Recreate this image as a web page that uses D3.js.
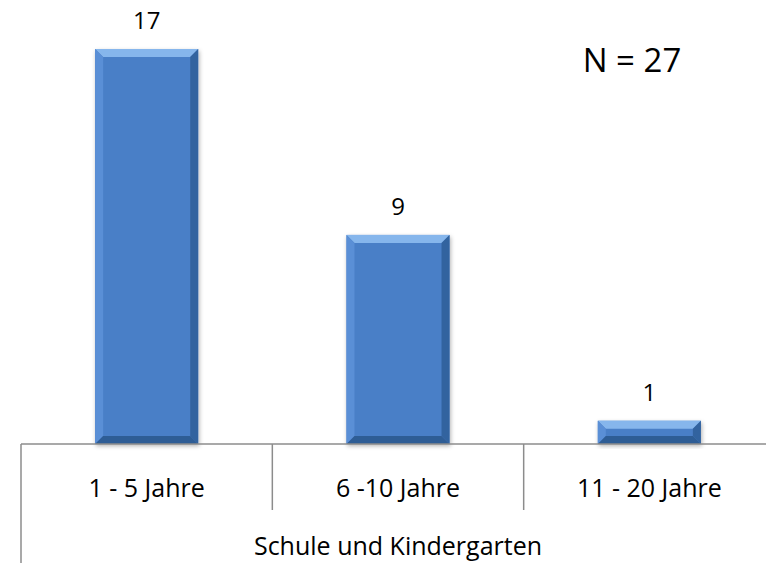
<!DOCTYPE html>
<html>
<head>
<meta charset="utf-8">
<script src="https://cdn.jsdelivr.net/npm/d3@7"></script>
<style>
  body { margin: 0; background: #fff; }
  text { font-family: "Open Sans", Lato, sans-serif; fill: #000; }
</style>
</head>
<body>
<svg id="chart" width="766" height="563"></svg>
<script>
const categories = ['1 - 5 Jahre', '6 -10 Jahre', '11 - 20 Jahre'];
const values = [17, 9, 1];
const groupLabel = 'Schule und Kindergarten';
const note = 'N = 27';

const svg = d3.select('#chart');
const W = 766, H = 563;
const left = 21, right = 775, base = 444;

const x = d3.scaleBand().domain(categories).range([left, right]).paddingInner(0).paddingOuter(0);
const y = d3.scaleLinear().domain([0, 17]).range([base, 49]);
const barW = x.bandwidth() * 0.41;

const defs = svg.append('defs');
const shadow = defs.append('filter').attr('id', 'sh').attr('x', '-20%').attr('y', '-20%').attr('width', '140%').attr('height', '140%');
shadow.append('feDropShadow').attr('dx', 1).attr('dy', 2).attr('stdDeviation', 2).attr('flood-color', '#000').attr('flood-opacity', 0.3);

const bevel = 8;
const bars = svg.append('g').selectAll('g').data(values).enter().append('g')
  .attr('filter', 'url(#sh)');

bars.each(function(d, i) {
  const g = d3.select(this);
  const x0 = x(categories[i]) + (x.bandwidth() - barW) / 2, x1 = x0 + barW;
  const y0 = y(d), y1 = base;
  const b = Math.min(bevel, (y1 - y0) / 2);
  g.append('rect').attr('x', x0).attr('y', y0).attr('width', barW).attr('height', y1 - y0).attr('fill', '#4a7fc7');
  // top bevel
  g.append('polygon').attr('points', [[x0, y0], [x1, y0], [x1 - b, y0 + b], [x0 + b, y0 + b]].join(' ')).attr('fill', '#86b6ec');
  // left bevel
  g.append('polygon').attr('points', [[x0, y0], [x0 + b, y0 + b], [x0 + b, y1 - b], [x0, y1]].join(' ')).attr('fill', '#5a8fd6');
  // right bevel
  g.append('polygon').attr('points', [[x1, y0], [x1 - b, y0 + b], [x1 - b, y1 - b], [x1, y1]].join(' ')).attr('fill', '#33649f');
  // bottom bevel
  g.append('polygon').attr('points', [[x0, y1], [x0 + b, y1 - b], [x1 - b, y1 - b], [x1, y1]].join(' ')).attr('fill', '#2f5d95');
});

svg.append('g').selectAll('text').data(values).enter().append('text')
  .attr('x', (d, i) => x(categories[i]) + x.bandwidth() / 2)
  .attr('y', d => y(d) - 20)
  .attr('text-anchor', 'middle')
  .attr('font-size', 24)
  .text(d => d);

// axis lines
const axis = svg.append('g').attr('stroke', '#8c8c8c').attr('stroke-width', 1.5);
axis.append('line').attr('x1', left).attr('x2', W).attr('y1', base).attr('y2', base);
axis.append('line').attr('x1', left).attr('x2', left).attr('y1', base).attr('y2', H);
axis.selectAll('line.div').data(categories.slice(1)).enter().append('line')
  .attr('class', 'div')
  .attr('x1', d => x(d)).attr('x2', d => x(d))
  .attr('y1', base).attr('y2', 510);

svg.append('g').selectAll('text').data(categories).enter().append('text')
  .attr('x', d => x(d) + x.bandwidth() / 2)
  .attr('y', 497)
  .attr('text-anchor', 'middle')
  .attr('font-size', 25)
  .text(d => d);

svg.append('text')
  .attr('x', (left + x(categories[2]) + x.bandwidth()) / 2)
  .attr('y', 555)
  .attr('text-anchor', 'middle')
  .attr('font-size', 25)
  .text(groupLabel);

svg.append('text')
  .attr('x', 632).attr('y', 72)
  .attr('text-anchor', 'middle')
  .attr('font-size', 33)
  .text(note);
</script>
</body>
</html>
